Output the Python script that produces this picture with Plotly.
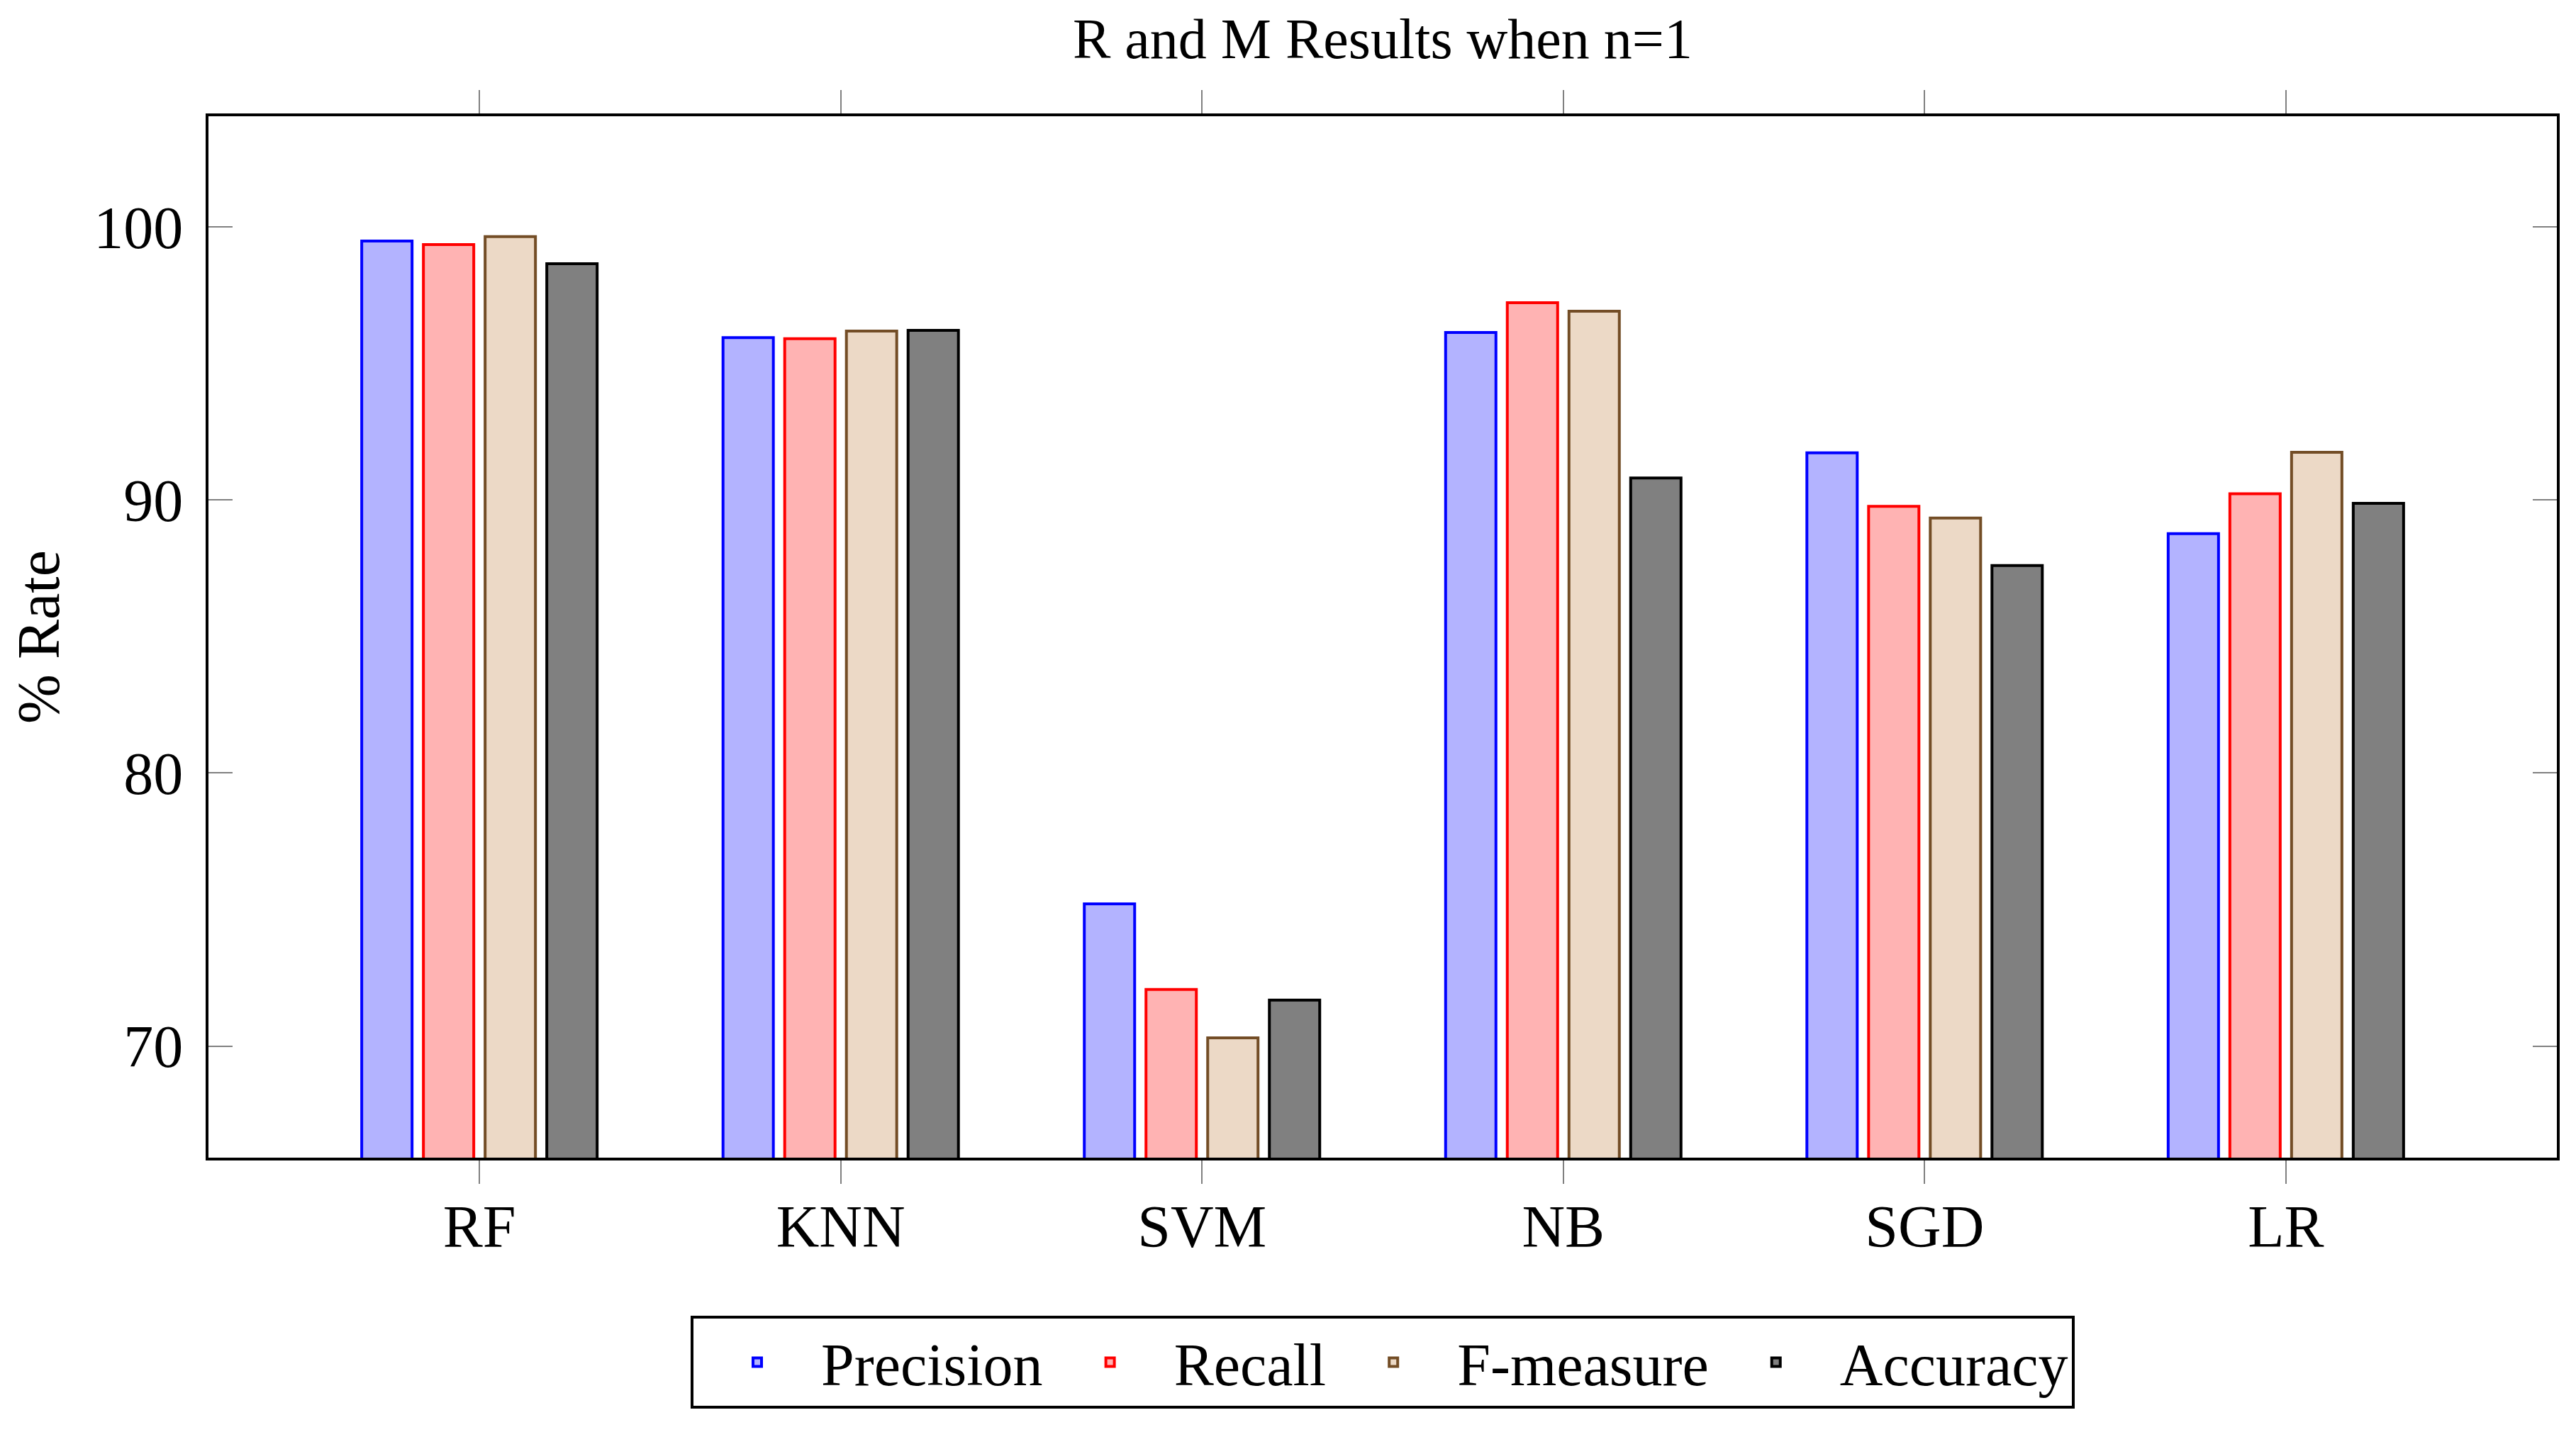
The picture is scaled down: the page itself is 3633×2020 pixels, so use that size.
import plotly.graph_objects as go

categories = ["RF", "KNN", "SVM", "NB", "SGD", "LR"]
precision = [99.49, 95.95, 75.21, 96.14, 91.73, 88.77]
recall = [99.36, 95.91, 72.07, 97.23, 89.77, 90.23]
f_measure = [99.65, 96.19, 70.30, 96.92, 89.34, 91.75]
accuracy = [98.66, 96.22, 71.68, 90.81, 87.60, 89.88]
y_ticks = [70, 80, 90, 100]

series = [
    ("Precision", precision, "#b3b3ff", "#0000ff"),
    ("Recall", recall, "#ffb3b3", "#ff0000"),
    ("F-measure", f_measure, "#ecd9c6", "#734d26"),
    ("Accuracy", accuracy, "#808080", "#000000"),
]

FONT = "Liberation Serif"
fig = go.Figure()
for name, vals, fill, line in series:
    fig.add_trace(go.Bar(
        x=list(range(len(categories))), y=vals, name=name,
        marker=dict(color=fill, line=dict(color=line, width=4)),
    ))

# page body has an 8px default margin; compensate so plot lands where the reference has it
W, H = 3617, 2004
L, T = 286, 156
PR, PB = 3598, 1625
fig.update_layout(
    width=W, height=H,
    margin=dict(l=L, r=W - PR, t=T, b=H - PB, autoexpand=False),
    paper_bgcolor="white", plot_bgcolor="white",
    barmode="group", bargap=0.317, bargroupgap=0.184,
    font=dict(family=FONT, size=84, color="black"),
    title=dict(text="R and M Results when n=1", x=1942 / W, xanchor="center",
               y=1 - 46 / H, yanchor="middle", font=dict(family=FONT, size=80, color="black")),
    showlegend=True,
    legend=dict(orientation="h", x=0.5, xanchor="center", y=-0.152, yanchor="top",
                bordercolor="black", borderwidth=4, bgcolor="white", itemwidth=170,
                font=dict(family=FONT, size=84, color="black"), traceorder="normal"),
)
fig.update_xaxes(
    tickmode="array", tickvals=list(range(len(categories))), ticktext=categories,
    range=[-0.75, 5.75], showline=True, linecolor="black", linewidth=4, mirror="ticks",
    ticks="outside", ticklen=33, tickwidth=2, tickcolor="#808080", showgrid=False,
    zeroline=False, ticklabelstandoff=-12, automargin=False,
)
fig.update_yaxes(
    tickmode="array", tickvals=y_ticks, range=[65.91, 104.06],
    showline=True, linecolor="black", linewidth=4, mirror="ticks",
    ticks="inside", ticklen=34, tickwidth=2, tickcolor="#808080", showgrid=False,
    zeroline=False, ticklabelstandoff=15, automargin=False,
    title=dict(text="% Rate", standoff=112, font=dict(family=FONT, size=84)),
)
fig.write_html("out.html")
